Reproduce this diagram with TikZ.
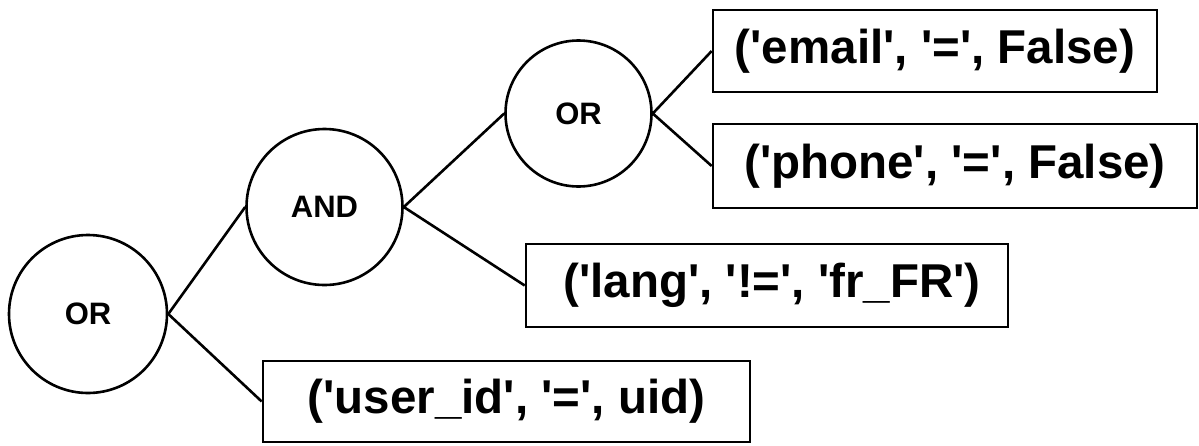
\documentclass[tikz,border=0pt]{standalone}
\usepackage{fontspec}
\setmainfont{Liberation Sans}[Ligatures=TeXOff]
\begin{document}
\begin{tikzpicture}[x=1pt,y=-1pt,
  opnode/.style={circle,draw,line width=2.6pt,inner sep=0pt,font=\fontsize{31}{36}\selectfont\bfseries},
  leaf/.style={rectangle,draw,line width=2.6pt,inner sep=0pt,font=\fontsize{47.5}{54}\selectfont\bfseries},
  edge/.style={line width=2.6pt}]
\useasboundingbox (0,0) rectangle (1199,445);
\node[opnode,minimum size=158pt] (or1) at (88,314) {OR};
\node[opnode,minimum size=156pt] (and) at (324.5,207) {AND};
\node[opnode,minimum size=146pt] (or2) at (578.5,113.5) {OR};
\node[leaf,minimum width=444pt,minimum height=82pt] (email) at (935,51) {('email', '=', False)};
\node[leaf,minimum width=484pt,minimum height=84pt] (phone) at (955,166) {('phone', '=', False)};
\node[leaf,minimum width=482pt,minimum height=83pt] (lang) at (767,285.5) {\hspace{10pt}('lang', '!=', 'fr\_FR')};
\node[leaf,minimum width=487pt,minimum height=81pt] (uid) at (506.5,401.5) {('user\_id', '=', uid)};
\draw[edge] (or1.east) -- (and.west);
\draw[edge] (or1.east) -- (uid.west);
\draw[edge] (and.east) -- (or2.west);
\draw[edge] (and.east) -- (lang.west);
\draw[edge] (or2.east) -- (email.west);
\draw[edge] (or2.east) -- (phone.west);
\end{tikzpicture}
\end{document}
